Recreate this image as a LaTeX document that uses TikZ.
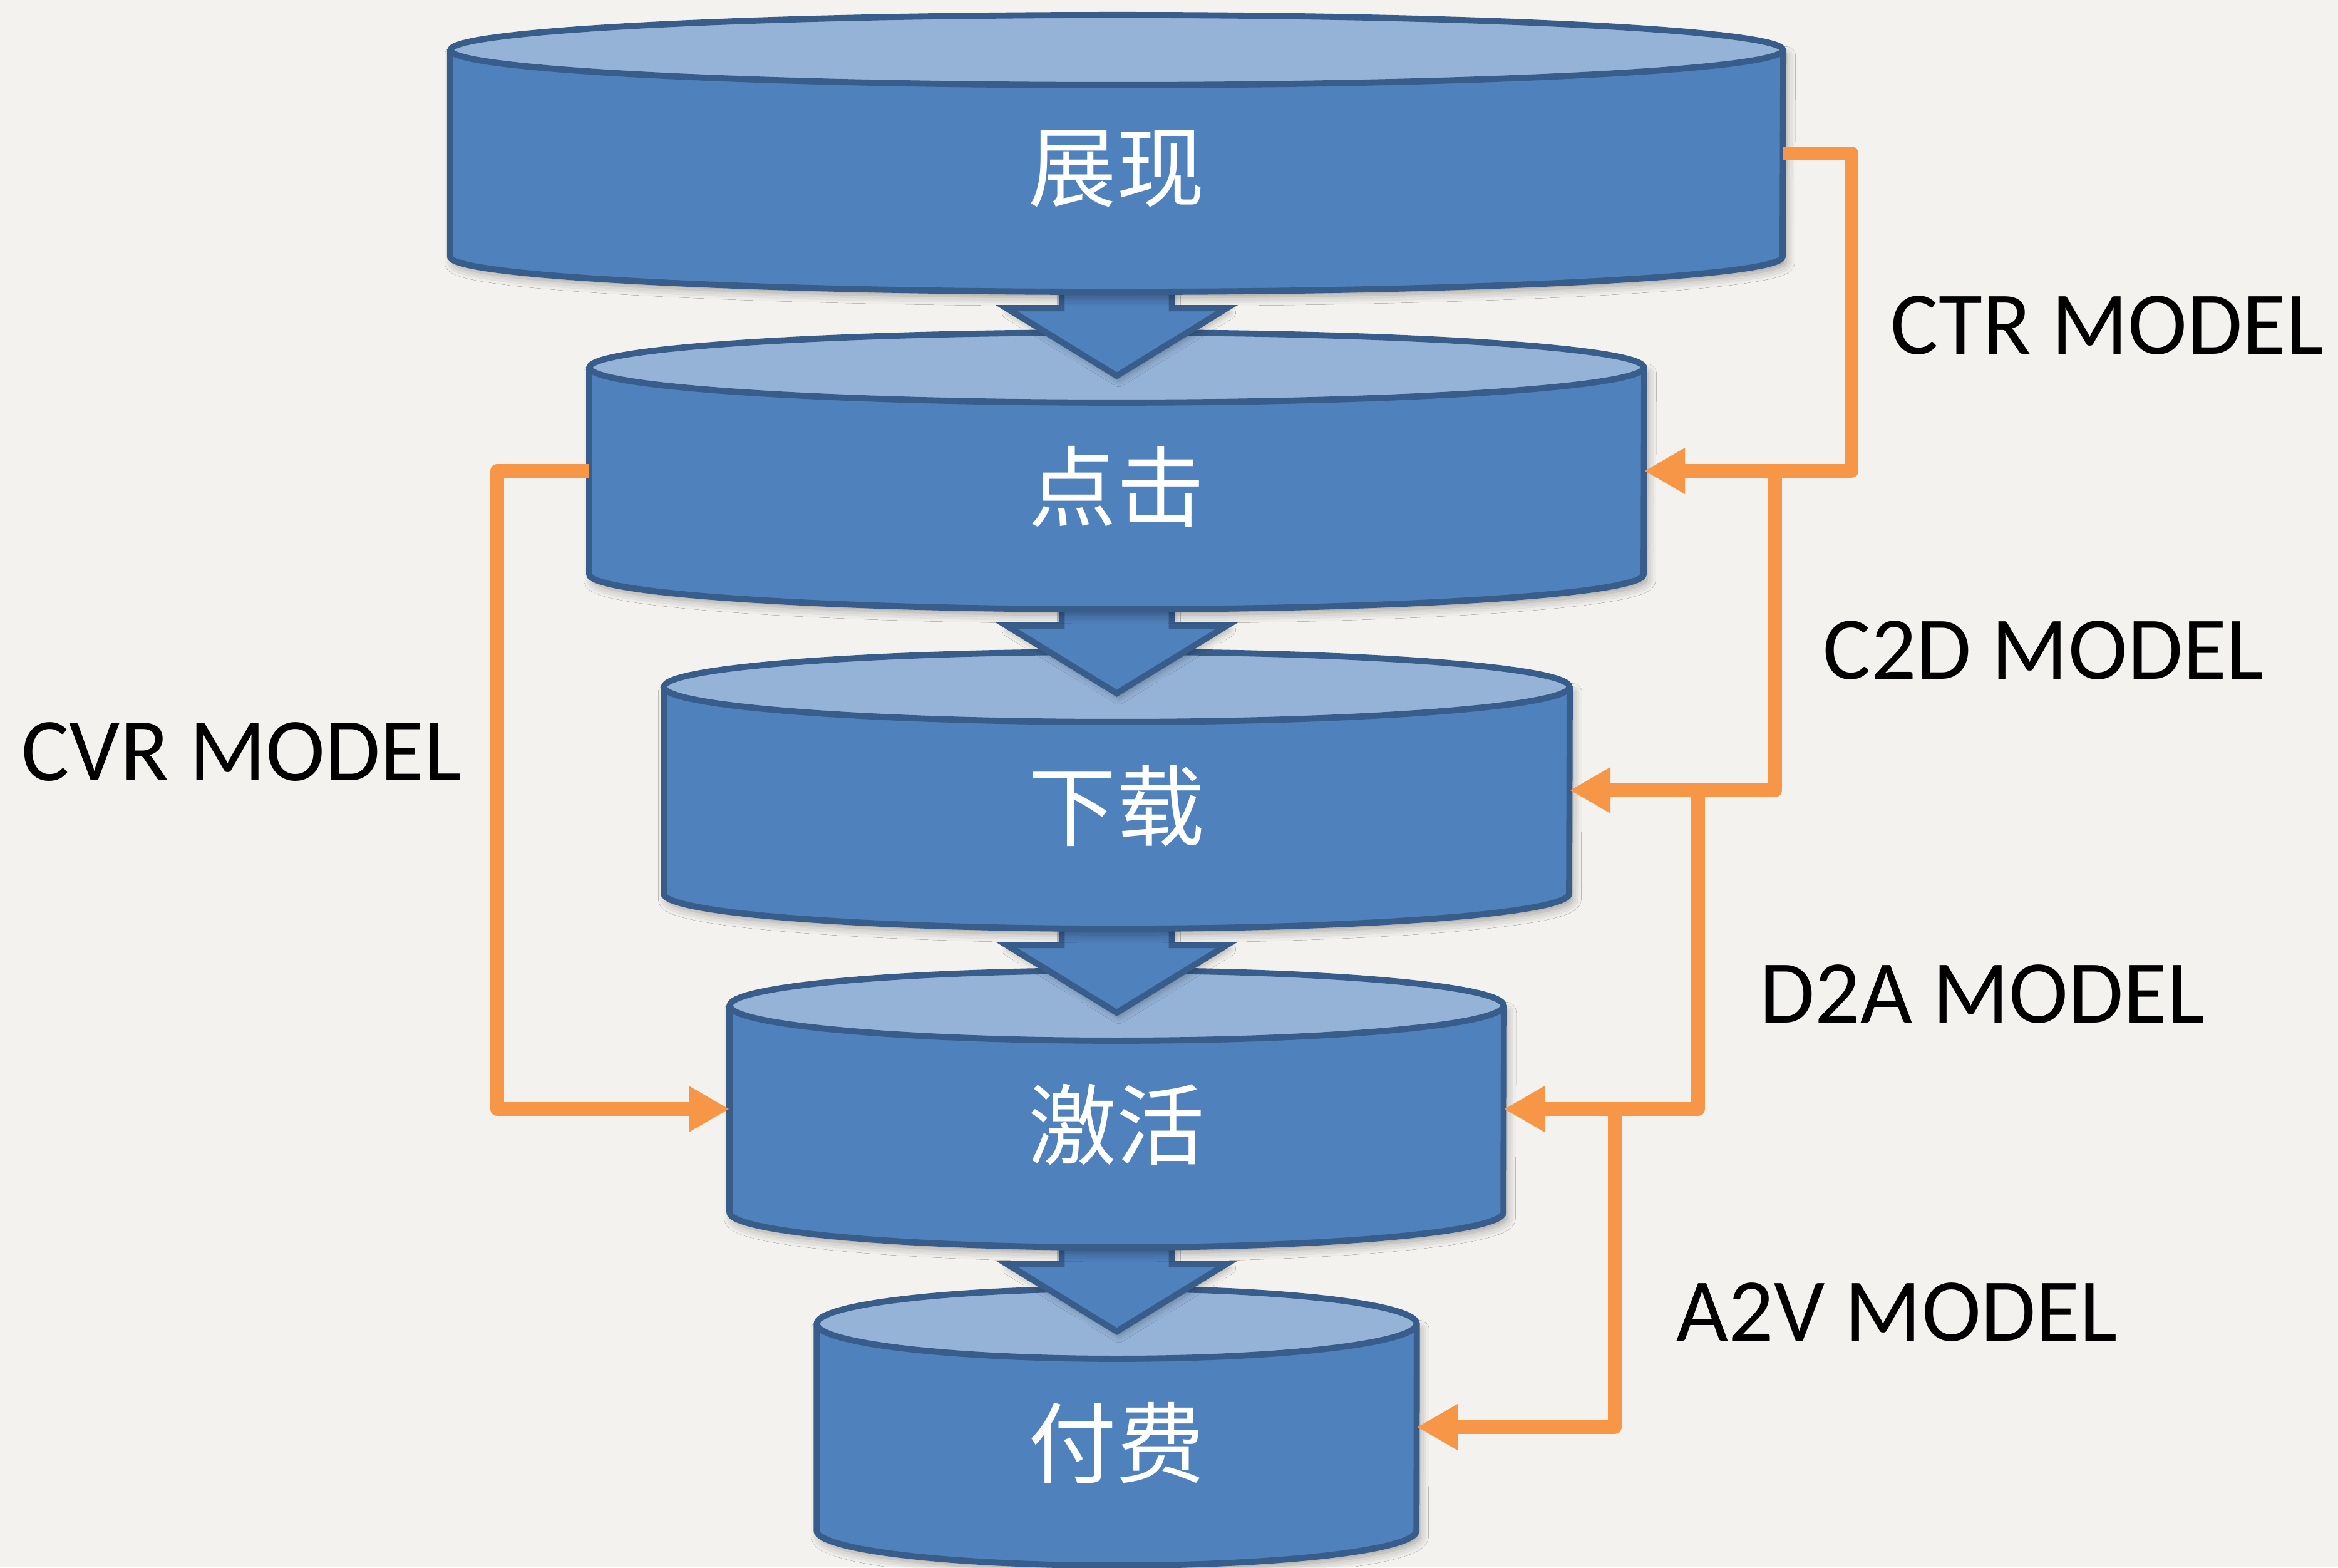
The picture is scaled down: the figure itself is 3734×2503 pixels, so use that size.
\documentclass[tikz,border=0pt]{standalone}
\usepackage{fontspec}
\setmainfont{Carlito}
\newfontfamily\cjk{Noto Sans CJK SC}
\usetikzlibrary{arrows.meta,calc,shadows.blur}
\definecolor{bg}{RGB}{243,242,238}
\definecolor{bodyblue}{RGB}{79,129,189}
\definecolor{capblue}{RGB}{149,179,215}
\definecolor{edgeblue}{RGB}{56,93,138}
\definecolor{linkorange}{RGB}{247,150,70}
\tikzset{
  cylbody/.style={fill=bodyblue, draw=edgeblue, line width=2.8pt, line join=round,
    blur shadow={shadow xshift=1.5pt, shadow yshift=-2.5pt, shadow blur radius=4pt, shadow opacity=35}},
  cylcap/.style={fill=capblue, draw=edgeblue, line width=2.8pt},
  flowarrow/.style={fill=bodyblue, draw=edgeblue, line width=2.8pt, line join=miter,
    blur shadow={shadow xshift=1pt, shadow yshift=-2pt, shadow blur radius=3pt, shadow opacity=30}},
  anchorbox/.style={rectangle, inner sep=0pt, outer sep=0pt, draw=none, minimum height=3.3cm},
  stagetext/.style={text=white, font=\cjk\fontsize{40}{48}\selectfont, inner sep=0pt},
  modellabel/.style={anchor=base west, font=\fontsize{40.7}{48}\selectfont, inner sep=0pt, text=black},
  link/.style={draw=linkorange, line width=6.3pt, line join=round,
    -{Triangle[length=18.5pt,width=19.6pt]}},
}
\newcommand\drawcyl[2]{%
  \path[cylbody] (#1.north west) -- (#1.south west)
    arc[start angle=180, end angle=0, x radius=#2, y radius=56] -- (#1.north east) -- cycle;
  \path[cylcap] (#1.north) ellipse[x radius=#2, y radius=56];
}
\newcommand\flowarr[1]{%
  \path[flowarrow] ($(#1.south)+(-88,-15)$) -- ($(#1.south)+(-88,82)$) -- ($(#1.south)+(-176,82)$)
    -- ($(#1.south)+(0,190)$) -- ($(#1.south)+(176,82)$) -- ($(#1.south)+(88,82)$)
    -- ($(#1.south)+(88,-15)$) -- cycle;
}
\begin{document}
\begin{tikzpicture}[x=0.01cm,y=-0.01cm]
\path[fill=bg] (0,0) rectangle (3734,2503);
\useasboundingbox (0,0) rectangle (3734,2503);

% named stage bodies
\node[anchorbox, minimum width=21.28cm] (c1) at (1783.5,245) {};
\node[anchorbox, minimum width=16.84cm] (c2) at (1783.5,752) {};
\node[anchorbox, minimum width=14.46cm] (c3) at (1783.5,1262) {};
\node[anchorbox, minimum width=12.36cm] (c4) at (1783.5,1771) {};
\node[anchorbox, minimum width=9.58cm] (c5) at (1783.5,2279) {};

% shapes, bottom to top
\drawcyl{c5}{479}
\flowarr{c4}
\drawcyl{c4}{618}
\flowarr{c3}
\drawcyl{c3}{723}
\flowarr{c2}
\drawcyl{c2}{842}
\flowarr{c1}
\drawcyl{c1}{1064}

% stage texts
\node[stagetext] (t1) at ($(c1)+(0,25)$) {展现};
\node[stagetext] (t2) at ($(c2)+(0,25)$) {点击};
\node[stagetext] (t3) at ($(c3)+(0,25)$) {下载};
\node[stagetext] (t4) at ($(c4)+(0,25)$) {激活};
\node[stagetext] (t5) at ($(c5)+(0,25)$) {付费};

% connector columns
\coordinate (vctr) at (2957,0);
\coordinate (vc2d) at (2835,0);
\coordinate (vd2a) at (2712,0);
\coordinate (va2v) at (2579,0);
\coordinate (vcvr) at (794,0);

\draw[link] (c1.east) -- (c1.east -| vctr) -- (vctr |- c2.east) -- (c2.east);
\draw[link] (vc2d |- c2.east) -- (vc2d |- c3.east) -- (c3.east);
\draw[link] (vd2a |- c3.east) -- (vd2a |- c4.east) -- (c4.east);
\draw[link] (va2v |- c4.east) -- (va2v |- c5.east) -- (c5.east);
\draw[link] (c2.west) -- (c2.west -| vcvr) -- (vcvr |- c4.west) -- (c4.west);

% labels
\node[modellabel] (lctr) at (3019,565) {CTR MODEL};
\node[modellabel] (lc2d) at (2911,1084) {C2D MODEL};
\node[modellabel] (ld2a) at (2810,1633) {D2A MODEL};
\node[modellabel] (la2v) at (2677,2141) {A2V MODEL};
\node[modellabel] (lcvr) at (34,1246) {CVR MODEL};
\end{tikzpicture}
\end{document}
